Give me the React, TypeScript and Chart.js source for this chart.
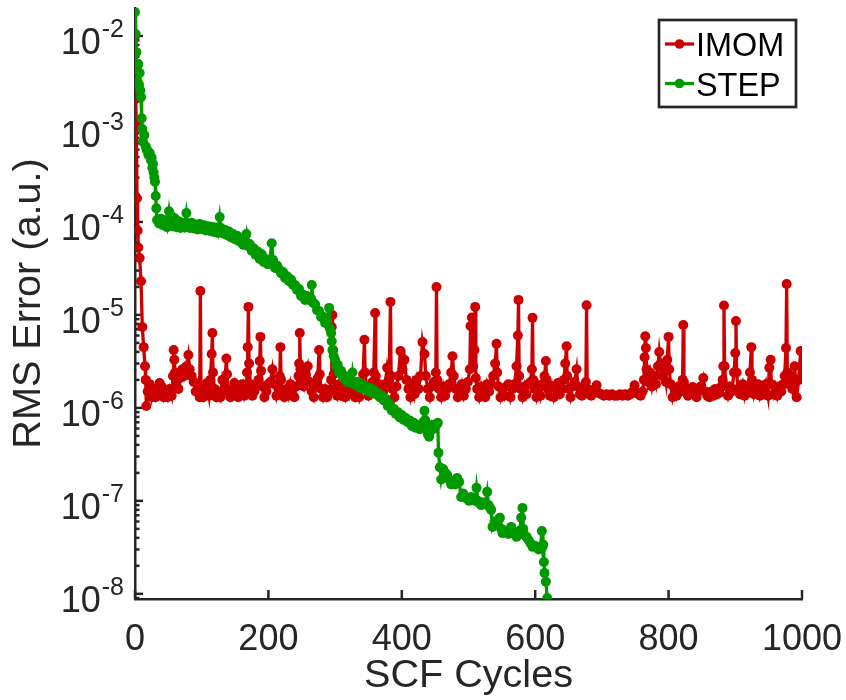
import React, { useEffect, useRef } from 'react';
import { Chart, registerables } from 'chart.js';

Chart.register(...registerables);

// ---------------- data ----------------
const seriesNames = ['IMOM', 'STEP'];
const xTitle = 'SCF Cycles';
const yTitle = 'RMS Error (a.u.)';
const xTickValues = [0, 200, 400, 600, 800, 1000];
const yTickExponents = [-8, -7, -6, -5, -4, -3, -2];

const imomX = [
  0, 1, 2, 3, 4, 5, 7, 9, 11, 13,
  15, 16, 17, 19, 22, 25, 28, 31, 34, 37,
  40, 43, 46, 49, 52, 55, 57, 58, 59, 60,
  62, 65, 68, 71, 74, 77, 80, 82, 85, 88,
  91, 94, 97, 98, 99, 102, 105, 108, 111, 113,
  115, 116, 117, 119, 122, 125, 128, 131, 134, 137,
  138, 140, 143, 146, 149, 152, 155, 158, 161, 164,
  167, 168, 169, 170, 171, 173, 176, 179, 182, 185,
  187, 188, 189, 191, 194, 197, 200, 203, 206, 209,
  212, 215, 217, 218, 219, 221, 224, 227, 230, 233,
  236, 239, 242, 245, 246, 247, 248, 250, 253, 256,
  259, 262, 265, 268, 271, 274, 276, 277, 279, 282,
  285, 288, 291, 294, 295, 296, 297, 298, 300, 303,
  306, 309, 312, 315, 318, 321, 324, 327, 330, 333,
  336, 339, 342, 344, 345, 347, 350, 353, 356, 358,
  360, 361, 363, 366, 369, 372, 375, 378, 381, 383,
  384, 386, 389, 392, 395, 398, 401, 404, 407, 410,
  413, 416, 419, 422, 425, 428, 431, 434, 436, 439,
  442, 445, 448, 451, 452, 453, 456, 459, 462, 465,
  468, 471, 474, 476, 478, 481, 484, 487, 490, 493,
  496, 499, 502, 503, 505, 507, 509, 510, 511, 513,
  516, 519, 522, 525, 528, 531, 534, 537, 540, 542,
  543, 545, 548, 551, 554, 557, 560, 563, 566, 569,
  572, 574, 575, 576, 578, 581, 584, 587, 590, 593,
  595, 596, 597, 599, 602, 605, 608, 611, 614, 616,
  617, 619, 622, 625, 628, 631, 634, 637, 640, 643,
  645, 647, 648, 650, 653, 656, 659, 662, 664, 667,
  670, 673, 676, 677, 678, 681, 684, 687, 690, 692,
  695, 699, 703, 707, 711, 715, 719, 723, 727, 731,
  735, 739, 743, 746, 749, 752, 755, 758, 761, 763,
  764, 765, 766, 767, 769, 772, 775, 778, 781, 784,
  786, 788, 790, 793, 796, 798, 800, 801, 803, 806,
  809, 812, 815, 818, 821, 822, 823, 826, 829, 832,
  836, 839, 842, 845, 848, 852, 855, 858, 861, 864,
  867, 870, 873, 876, 879, 881, 882, 883, 884, 886,
  889, 892, 895, 898, 900, 901, 902, 904, 907, 911,
  914, 917, 920, 922, 924, 925, 928, 931, 934, 937,
  940, 943, 946, 949, 951, 953, 954, 957, 960, 963,
  966, 969, 972, 974, 976, 977, 978, 980, 983, 986,
  989, 992, 995, 998, 1000,
];

const imomY = [
  1.0e-2, 2.1e-3, 1.2e-3, 1.8e-4, 8.1e-5, 5.3e-5, 4.1e-5, 2.3e-5, 7.4e-6, 4.5e-6,
  2.8e-6, 2.0e-6, 1.05e-6, 1.5e-6, 1.8e-6, 1.3e-6, 1.6e-6, 1.3e-6, 1.5e-6, 1.85e-6,
  1.7e-6, 1.3e-6, 1.5e-6, 1.3e-6, 1.6e-6, 1.35e-6, 2.2e-6, 4.2e-6, 3.3e-6, 2.4e-6,
  1.8e-6, 1.6e-6, 2.1e-6, 2.6e-6, 2.2e-6, 2.8e-6, 3.7e-6, 2.6e-6, 2.2e-6, 1.9e-6,
  1.5e-6, 1.8e-6, 1.3e-6, 1.81e-5, 1.5e-6, 1.3e-6, 1.6e-6, 1.85e-6, 1.35e-6, 2.0e-6,
  3.8e-6, 6.4e-6, 2.4e-6, 1.6e-6, 1.3e-6, 1.5e-6, 1.3e-6, 2.0e-6, 1.6e-6, 3.4e-6,
  2.3e-6, 1.5e-6, 1.3e-6, 1.6e-6, 1.85e-6, 1.35e-6, 1.3e-6, 1.6e-6, 1.8e-6, 1.35e-6,
  1.6e-6, 2.4e-6, 4.5e-6, 1.22e-5, 3.0e-6, 1.8e-6, 1.35e-6, 1.5e-6, 1.8e-6, 2.0e-6,
  3.2e-6, 5.8e-6, 2.5e-6, 1.7e-6, 1.3e-6, 1.5e-6, 1.8e-6, 1.9e-6, 2.6e-6, 1.8e-6,
  1.35e-6, 1.7e-6, 2.2e-6, 4.5e-6, 2.0e-6, 1.5e-6, 1.3e-6, 1.6e-6, 1.35e-6, 1.8e-6,
  1.4e-6, 1.3e-6, 1.7e-6, 2.2e-6, 3.0e-6, 6.4e-6, 2.6e-6, 2.0e-6, 1.7e-6, 2.3e-6,
  2.8e-6, 1.9e-6, 1.5e-6, 1.3e-6, 1.8e-6, 2.1e-6, 4.2e-6, 2.3e-6, 1.6e-6, 1.3e-6,
  1.6e-6, 1.3e-6, 1.5e-6, 2.0e-6, 7.4e-6, 1.0e-5, 4.2e-6, 2.3e-6, 1.6e-6, 1.35e-6,
  1.8e-6, 1.35e-6, 1.5e-6, 1.3e-6, 1.7e-6, 1.4e-6, 1.85e-6, 1.5e-6, 1.3e-6, 1.6e-6,
  1.3e-6, 1.7e-6, 2.3e-6, 5.4e-6, 2.4e-6, 1.7e-6, 1.35e-6, 1.6e-6, 1.9e-6, 2.4e-6,
  1.05e-5, 2.2e-6, 1.6e-6, 1.8e-6, 1.35e-6, 1.5e-6, 1.8e-6, 2.7e-6, 2.0e-6, 1.38e-5,
  2.2e-6, 1.6e-6, 1.3e-6, 1.7e-6, 2.2e-6, 4.1e-6, 2.6e-6, 3.3e-6, 2.0e-6, 1.6e-6,
  1.3e-6, 1.8e-6, 1.4e-6, 2.0e-6, 1.6e-6, 2.2e-6, 5.1e-6, 3.8e-6, 2.2e-6, 1.6e-6,
  1.3e-6, 1.7e-6, 1.9e-6, 2.4e-6, 2.0e-5, 2.0e-6, 1.6e-6, 1.3e-6, 1.7e-6, 1.35e-6,
  1.6e-6, 1.8e-6, 2.4e-6, 3.6e-6, 2.2e-6, 1.6e-6, 1.3e-6, 1.5e-6, 1.8e-6, 1.35e-6,
  1.6e-6, 1.9e-6, 2.6e-6, 7.6e-6, 9.4e-6, 2.8e-6, 4.2e-6, 1.22e-5, 2.1e-6, 1.6e-6,
  1.3e-6, 1.7e-6, 1.4e-6, 1.3e-6, 1.8e-6, 1.5e-6, 1.8e-6, 2.2e-6, 3.0e-6, 4.9e-6,
  2.4e-6, 1.7e-6, 1.3e-6, 1.6e-6, 1.35e-6, 1.7e-6, 1.8e-6, 1.3e-6, 1.6e-6, 1.8e-6,
  2.8e-6, 6.0e-6, 1.45e-5, 2.2e-6, 1.6e-6, 1.3e-6, 1.7e-6, 1.4e-6, 1.8e-6, 1.9e-6,
  2.6e-6, 9.3e-6, 2.0e-6, 1.6e-6, 1.3e-6, 1.7e-6, 1.35e-6, 1.8e-6, 2.2e-6, 3.2e-6,
  2.0e-6, 1.6e-6, 1.35e-6, 1.7e-6, 1.3e-6, 1.6e-6, 1.85e-6, 1.4e-6, 1.6e-6, 2.0e-6,
  3.0e-6, 4.6e-6, 2.2e-6, 1.6e-6, 1.3e-6, 1.7e-6, 1.9e-6, 2.6e-6, 1.7e-6, 1.4e-6,
  1.35e-6, 1.6e-6, 1.9e-6, 1.27e-5, 1.6e-6, 1.4e-6, 1.35e-6, 1.5e-6, 1.6e-6, 1.75e-6,
  1.45e-6, 1.4e-6, 1.35e-6, 1.4e-6, 1.35e-6, 1.4e-6, 1.35e-6, 1.35e-6, 1.4e-6, 1.35e-6,
  1.4e-6, 1.35e-6, 1.4e-6, 1.5e-6, 1.75e-6, 1.45e-6, 1.4e-6, 1.35e-6, 1.5e-6, 2.0e-6,
  3.5e-6, 5.9e-6, 4.4e-6, 2.6e-6, 1.9e-6, 2.4e-6, 1.7e-6, 2.2e-6, 1.8e-6, 2.8e-6,
  4.0e-6, 3.0e-6, 2.2e-6, 2.6e-6, 1.9e-6, 3.3e-6, 5.8e-6, 2.6e-6, 1.8e-6, 1.3e-6,
  1.6e-6, 1.35e-6, 1.7e-6, 1.5e-6, 2.0e-6, 7.8e-6, 1.9e-6, 1.5e-6, 1.35e-6, 1.6e-6,
  1.68e-6, 1.4e-6, 1.3e-6, 1.5e-6, 1.7e-6, 2.1e-6, 1.5e-6, 1.35e-6, 1.3e-6, 1.5e-6,
  1.35e-6, 1.6e-6, 1.4e-6, 1.45e-6, 1.7e-6, 2.0e-6, 2.8e-6, 1.26e-5, 2.8e-6, 1.7e-6,
  1.35e-6, 1.7e-6, 1.5e-6, 2.4e-6, 3.9e-6, 8.6e-6, 2.4e-6, 1.6e-6, 1.4e-6, 1.8e-6,
  1.35e-6, 1.7e-6, 1.5e-6, 2.4e-6, 4.5e-6, 2.0e-6, 1.4e-6, 1.7e-6, 1.8e-6, 1.35e-6,
  1.6e-6, 1.4e-6, 1.8e-6, 1.35e-6, 2.7e-6, 3.3e-6, 1.8e-6, 1.4e-6, 1.7e-6, 1.35e-6,
  1.7e-6, 1.5e-6, 1.8e-6, 2.2e-6, 4.4e-6, 2.15e-5, 2.4e-6, 1.8e-6, 2.2e-6, 1.6e-6,
  2.8e-6, 1.3e-6, 2.0e-6, 4.1e-6, 2.2e-6,
];

const stepX = [
  0, 1, 2, 3, 4, 5, 6, 7, 8, 9,
  10, 11, 12, 14, 16, 18, 20, 22, 24, 25,
  26, 27, 28, 29, 30, 31, 32, 33, 36, 39,
  42, 45, 48, 51, 53, 56, 59, 62, 65, 68,
  71, 74, 77, 79, 82, 85, 88, 91, 94, 97,
  100, 103, 106, 109, 112, 115, 118, 121, 124, 127,
  129, 132, 135, 138, 141, 144, 147, 150, 153, 156,
  159, 162, 165, 167, 169, 172, 175, 178, 181, 184,
  187, 190, 193, 196, 199, 202, 205, 207, 210, 213,
  216, 219, 222, 225, 228, 231, 234, 237, 240, 243,
  246, 249, 252, 255, 258, 261, 264, 265, 267, 270,
  273, 276, 279, 282, 285, 288, 291, 292, 294, 295,
  296, 298, 300, 302, 304, 306, 309, 312, 315, 318,
  321, 324, 326, 328, 331, 334, 337, 340, 343, 346,
  349, 352, 355, 358, 361, 364, 367, 370, 373, 376,
  379, 382, 385, 388, 391, 394, 397, 400, 403, 406,
  409, 412, 415, 418, 421, 424, 427, 430, 432, 434,
  435, 437, 439, 441, 443, 446, 449, 452, 454, 455,
  457, 459, 462, 465, 468, 471, 474, 477, 480, 483,
  486, 489, 492, 495, 498, 501, 504, 507, 510, 512,
  514, 516, 519, 522, 525, 528, 530, 532, 534, 536,
  539, 542, 545, 547, 549, 551, 554, 557, 560, 562,
  564, 567, 570, 572, 575, 577, 579, 581, 582, 584,
  587, 590, 593, 596, 599, 602, 605, 608, 610, 611,
  612, 613, 614, 616, 618,
];

const stepY = [
  1.8e-2, 1.05e-2, 6.7e-3, 4.6e-3, 3.2e-3, 5.0e-3, 3.0e-3, 4.0e-3, 2.6e-3, 2.2e-3,
  1.3e-3, 1.0e-3, 7.3e-4, 8.6e-4, 6.5e-4, 6.0e-4, 5.3e-4, 5.5e-4, 4.6e-4, 4.9e-4,
  3.8e-4, 4.2e-4, 3.4e-4, 3.0e-4, 2.7e-4, 1.9e-4, 1.4e-4, 1.05e-4, 9.6e-5, 1.08e-4,
  9.2e-5, 1.04e-4, 8.8e-5, 1.3e-4, 1.0e-4, 9.0e-5, 1.1e-4, 8.8e-5, 1.02e-4, 8.6e-5,
  9.8e-5, 8.7e-5, 1.25e-4, 9.6e-5, 8.6e-5, 9.8e-5, 8.5e-5, 9.4e-5, 8.3e-5, 9.5e-5,
  8.4e-5, 9.2e-5, 8.1e-5, 9.0e-5, 8.0e-5, 8.9e-5, 7.8e-5, 8.7e-5, 7.6e-5, 1.13e-4,
  8.6e-5, 7.5e-5, 8.2e-5, 7.2e-5, 7.9e-5, 6.8e-5, 7.4e-5, 6.5e-5, 7.1e-5, 6.2e-5,
  6.5e-5, 5.7e-5, 6.3e-5, 7.4e-5, 5.5e-5, 5.8e-5, 4.9e-5, 5.2e-5, 4.4e-5, 4.8e-5,
  4.0e-5, 4.5e-5, 3.7e-5, 4.0e-5, 3.5e-5, 3.8e-5, 5.9e-5, 3.9e-5, 3.2e-5, 3.4e-5,
  3.1e-5, 2.8e-5, 2.9e-5, 2.5e-5, 2.6e-5, 2.3e-5, 2.4e-5, 2.1e-5, 2.1e-5, 1.85e-5,
  1.9e-5, 1.6e-5, 1.65e-5, 1.45e-5, 1.6e-5, 1.45e-5, 1.5e-5, 2.1e-5, 1.35e-5, 1.3e-5,
  1.12e-5, 1.1e-5, 9.5e-6, 9.6e-6, 8.2e-6, 8.5e-6, 1.19e-5, 7.2e-6, 6.4e-6, 5.2e-6,
  4.2e-6, 3.6e-6, 3.3e-6, 2.8e-6, 2.9e-6, 2.4e-6, 2.5e-6, 2.1e-6, 2.2e-6, 1.9e-6,
  2.1e-6, 1.85e-6, 2.4e-6, 1.9e-6, 1.75e-6, 1.9e-6, 1.65e-6, 1.8e-6, 1.6e-6, 1.7e-6,
  1.5e-6, 1.65e-6, 1.45e-6, 1.55e-6, 1.4e-6, 1.45e-6, 1.3e-6, 1.35e-6, 1.2e-6, 1.25e-6,
  1.05e-6, 1.1e-6, 9.4e-7, 9.8e-7, 8.6e-7, 9.0e-7, 7.9e-7, 8.4e-7, 7.4e-7, 7.8e-7,
  7.0e-7, 7.3e-7, 6.4e-7, 6.9e-7, 6.1e-7, 6.5e-7, 5.9e-7, 6.2e-7, 7.0e-7, 9.3e-7,
  7.4e-7, 6.0e-7, 5.2e-7, 4.9e-7, 5.6e-7, 6.6e-7, 6.0e-7, 6.6e-7, 6.9e-7, 3.3e-7,
  2.3e-7, 1.7e-7, 2.2e-7, 2.0e-7, 1.9e-7, 1.7e-7, 1.5e-7, 1.6e-7, 1.5e-7, 1.76e-7,
  1.6e-7, 1.1e-7, 1.2e-7, 1.1e-7, 1.05e-7, 1.0e-7, 1.1e-7, 1.05e-7, 1.0e-7, 1.38e-7,
  1.0e-7, 9.5e-8, 9.0e-8, 9.6e-8, 9.2e-8, 1.25e-7, 9.0e-8, 8.5e-8, 8.0e-8, 5.25e-8,
  6.0e-8, 5.8e-8, 6.2e-8, 6.6e-8, 5.0e-8, 4.5e-8, 4.8e-8, 4.6e-8, 4.4e-8, 4.9e-8,
  5.25e-8, 4.6e-8, 4.3e-8, 4.1e-8, 4.4e-8, 4.8e-8, 6.6e-8, 8.4e-8, 5.0e-8, 4.3e-8,
  4.1e-8, 3.8e-8, 3.5e-8, 3.2e-8, 3.3e-8, 3.2e-8, 3.0e-8, 3.1e-8, 4.75e-8, 3.2e-8,
  3.4e-8, 2.2e-8, 1.68e-8, 1.35e-8, 9.0e-9,
];

// ---------------- style ----------------
const RED = '#cc0000';
const GREEN = '#009900';
const AXIS = '#262626';
const FONT = "'Liberation Sans', Arial, Helvetica, sans-serif";
const TICK_SIZE = 36;
const TITLE_SIZE = 39.6;
const LEGEND_SIZE = 32.4;

const axisDecor = {
  id: 'axisDecor',
  beforeDatasetsDraw(chart: any) {
    const ctx = chart.ctx as CanvasRenderingContext2D;
    const { left, bottom } = chart.chartArea;
    const xs = chart.scales.x;
    const ys = chart.scales.y;
    ctx.save();
    ctx.strokeStyle = AXIS;
    ctx.lineWidth = 2.5;
    // y major and minor ticks (inward)
    for (let e = -9; e <= -2; e++) {
      for (let m = 1; m <= 9; m++) {
        const v = m * Math.pow(10, e);
        if (v < ys.min * 1.0001 || v > ys.max * 0.9999) continue;
        const py = ys.getPixelForValue(v);
        const len = m === 1 ? 8 : 4.5;
        ctx.beginPath();
        ctx.moveTo(left, py);
        ctx.lineTo(left + len, py);
        ctx.stroke();
      }
    }
    // x ticks (inward)
    xs.ticks.forEach((t: any) => {
      const px = xs.getPixelForValue(t.value);
      ctx.beginPath();
      ctx.moveTo(px, bottom);
      ctx.lineTo(px, bottom - 9);
      ctx.stroke();
    });
    // y tick labels: 10^exp
    ctx.fillStyle = AXIS;
    ctx.textBaseline = 'alphabetic';
    ctx.textAlign = 'right';
    const rightEdge = left - 11;
    ys.ticks.forEach((t: any) => {
      const e = Math.round(Math.log10(t.value));
      const py = ys.getPixelForValue(t.value);
      const exp = String(e);
      ctx.font = `25px ${FONT}`;
      const ew = ctx.measureText(exp).width;
      ctx.fillText(exp, rightEdge, py + 1);
      ctx.font = `${TICK_SIZE}px ${FONT}`;
      ctx.fillText('10', rightEdge - ew - 1, py + 18);
    });
    ctx.restore();
  },
};

const legendBox = {
  id: 'legendBox',
  afterDraw(chart: any) {
    const ctx = chart.ctx as CanvasRenderingContext2D;
    const { right, top } = chart.chartArea;
    const bx = right - 143;
    const by = top + 12;
    const bw = 137;
    const bh = 87;
    ctx.save();
    ctx.fillStyle = '#ffffff';
    ctx.fillRect(bx, by, bw, bh);
    ctx.strokeStyle = AXIS;
    ctx.lineWidth = 2.7;
    ctx.strokeRect(bx, by, bw, bh);
    chart.data.datasets.forEach((ds: any, i: number) => {
      const cy = by + 24 + i * 39.5;
      ctx.strokeStyle = ds.borderColor;
      ctx.lineWidth = 3.3;
      ctx.beginPath();
      ctx.moveTo(bx + 6, cy);
      ctx.lineTo(bx + 35, cy);
      ctx.stroke();
      ctx.fillStyle = ds.borderColor;
      ctx.beginPath();
      ctx.arc(bx + 20.5, cy, 4.8, 0, Math.PI * 2);
      ctx.fill();
      ctx.fillStyle = '#000000';
      ctx.font = `${LEGEND_SIZE}px ${FONT}`;
      ctx.textAlign = 'left';
      ctx.textBaseline = 'alphabetic';
      ctx.fillText(ds.label, bx + 37, cy + 12);
    });
    ctx.restore();
  },
};

export default function App() {
  const ref = useRef<HTMLCanvasElement>(null);
  useEffect(() => {
    const canvas = ref.current;
    if (!canvas) return;
    const chart = new Chart(canvas, {
      type: 'line',
      data: {
        datasets: [
          {
            label: seriesNames[0],
            data: imomX.map((x, i) => ({ x, y: imomY[i] })),
            borderColor: RED,
            backgroundColor: RED,
            pointBackgroundColor: RED,
            borderWidth: 3.3,
            pointRadius: 5,
            pointBorderWidth: 0,
            tension: 0,
            order: 1,
          },
          {
            label: seriesNames[1],
            data: stepX.map((x, i) => ({ x, y: stepY[i] })),
            borderColor: GREEN,
            backgroundColor: GREEN,
            pointBackgroundColor: GREEN,
            borderWidth: 3.3,
            pointRadius: 5,
            pointBorderWidth: 0,
            tension: 0,
            order: 0,
          },
        ],
      },
      options: {
        responsive: false,
        animation: false,
        devicePixelRatio: 1,
        events: [],
        layout: { padding: { top: 8, right: 44, bottom: 0, left: 0 } },
        plugins: {
          legend: { display: false },
          tooltip: { enabled: false },
        },
        scales: {
          x: {
            type: 'linear',
            min: 0,
            max: 1000,
            afterBuildTicks: (s: any) => {
              s.ticks = xTickValues.map((v) => ({ value: v }));
            },
            grid: { display: false },
            border: { display: true, color: AXIS, width: 2.5 },
            ticks: {
              color: AXIS,
              font: { family: FONT, size: TICK_SIZE },
              padding: 11,
              autoSkip: false,
              maxRotation: 0,
              callback: (v: any) => String(v),
            },
            title: {
              display: true,
              text: xTitle,
              color: AXIS,
              font: { family: FONT, size: TITLE_SIZE },
              padding: { top: 0, bottom: 0 },
            },
            afterFit: (s: any) => {
              s.height = 101;
              s.paddingLeft = 0;
              s.paddingRight = 0;
            },
          },
          y: {
            type: 'logarithmic',
            min: 8.8e-9,
            max: 2e-2,
            afterBuildTicks: (s: any) => {
              s.ticks = yTickExponents.map((e) => ({ value: Math.pow(10, e) }));
            },
            grid: { display: false },
            border: { display: true, color: AXIS, width: 2.5 },
            ticks: {
              display: false,
              callback: (v: any) => '10^' + Math.round(Math.log10(Number(v))),
            },
            title: {
              display: true,
              text: yTitle,
              color: AXIS,
              font: { family: FONT, size: TITLE_SIZE },
              padding: { top: 5, bottom: 0 },
            },
            afterFit: (s: any) => {
              s.width = 135;
              s.paddingTop = 0;
              s.paddingBottom = 0;
            },
          },
        },
      } as any,
      plugins: [axisDecor, legendBox],
    });
    return () => chart.destroy();
  }, []);
  return (
    <canvas
      ref={ref}
      width={846}
      height={700}
      style={{ position: 'fixed', left: 0, top: 0, width: 846, height: 700, display: 'block' }}
    />
  );
}
